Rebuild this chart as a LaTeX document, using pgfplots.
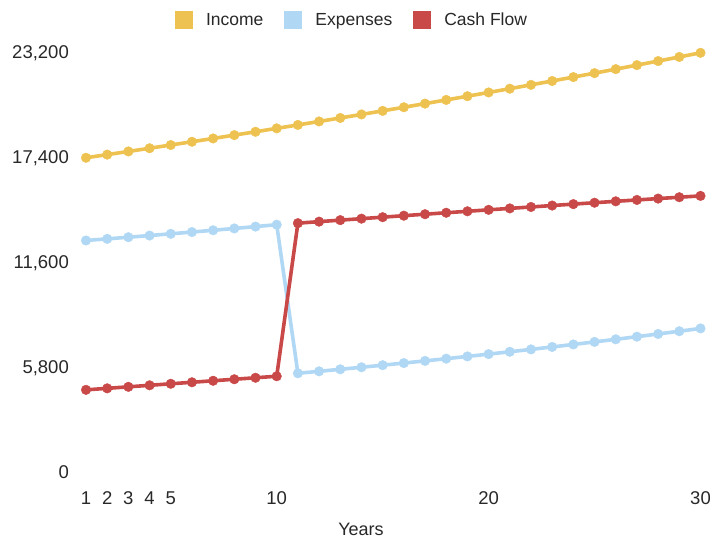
\documentclass[border=0pt]{standalone}
\usepackage{fontspec}
\setmainfont{Liberation Sans}
\usepackage{pgfplots}
\pgfplotsset{compat=1.18}

\definecolor{incomeC}{RGB}{238,194,80}
\definecolor{expC}{RGB}{176,216,245}
\definecolor{cashC}{RGB}{201,72,72}
\definecolor{txt}{RGB}{40,40,40}

\begin{document}
\begin{tikzpicture}
\path[use as bounding box] (0,0) rectangle (710pt,540pt);
\begin{axis}[
    at={(86pt,68.5pt)}, anchor=south west,
    scale only axis, width=614.5pt, height=420pt,
    xmin=1, xmax=30, ymin=0, ymax=23200,
    clip=false,
    axis line style={draw=none},
    major tick length=0pt,
    xtick={1,2,3,4,5,10,20,30},
    ytick={0,5800,11600,17400,23200},
    scaled y ticks=false,
    /pgf/number format/.cd, 1000 sep={,}, assume math mode=true,
    /pgfplots/.cd,
    ticklabel style={font=\fontsize{18.5}{21}\selectfont, text=txt},
    xticklabel style={anchor=base, inner sep=0pt, yshift=-33pt},
    yticklabel style={anchor=base east, inner sep=0pt, xshift=-17pt, yshift=-6.6pt},
    xlabel={Years},
    xlabel style={at={(axis description cs:0.4475,0)}, anchor=base, inner sep=0pt,
                  yshift=-64.5pt, font=\fontsize{18}{20}\selectfont, text=txt},
    legend columns=3,
    legend style={draw=none, at={(0.4329,1.075)}, anchor=center,
                  font=\fontsize{17.5}{20}\selectfont, text=txt,
                  /tikz/every even column/.append style={column sep=19pt}},
    legend image code/.code={
        \fill[#1, draw=none] (0pt,-9pt) rectangle (18pt,9pt);
        \path[draw=none, fill=none] (29pt,0pt);},
    every axis plot/.append style={line width=3.6pt, mark=*, mark size=4.8pt,
                  line join=round, mark options={line width=0.4pt}},
]
\addplot[incomeC] coordinates {
(1,17330) (2,17503) (3,17678) (4,17855) (5,18034) (6,18214) (7,18396) (8,18580)
(9,18766) (10,18954) (11,19143) (12,19335) (13,19528) (14,19723) (15,19920)
(16,20120) (17,20321) (18,20524) (19,20729) (20,20937) (21,21146) (22,21357)
(23,21571) (24,21787) (25,22004) (26,22225) (27,22447) (28,22671) (29,22898)
(30,23127)
};
\addlegendentry{Income}
\addplot[expC] coordinates {
(1,12760) (2,12850) (3,12941) (4,13034) (5,13129) (6,13226) (7,13325) (8,13425)
(9,13528) (10,13633) (11,5425) (12,5534) (13,5644) (14,5757) (15,5872)
(16,5990) (17,6109) (18,6232) (19,6356) (20,6483) (21,6613) (22,6745)
(23,6880) (24,7018) (25,7158) (26,7301) (27,7447) (28,7596) (29,7748)
(30,7903)
};
\addlegendentry{Expenses}
\addplot[cashC] coordinates {
(1,4510) (2,4593) (3,4677) (4,4761) (5,4845) (6,4928) (7,5011) (8,5095)
(9,5178) (10,5261) (11,13718) (12,13801) (13,13884) (14,13966) (15,14048)
(16,14130) (17,14212) (18,14292) (19,14373) (20,14454) (21,14533) (22,14612)
(23,14691) (24,14769) (25,14846) (26,14924) (27,15000) (28,15075) (29,15150)
(30,15224)
};
\addlegendentry{Cash Flow}
\end{axis}
\end{tikzpicture}
\end{document}
